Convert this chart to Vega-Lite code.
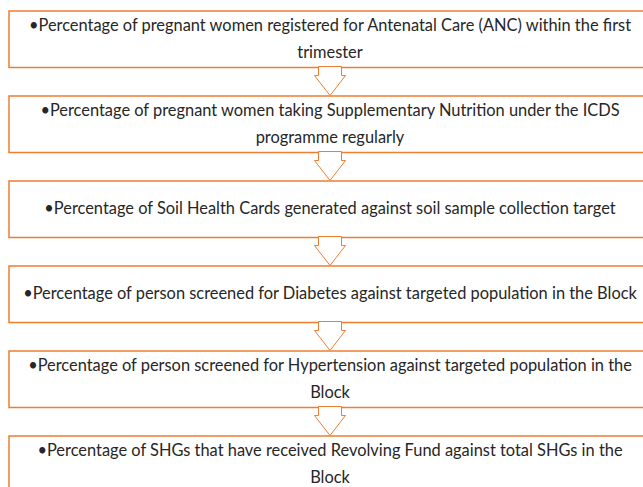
{
  "$schema": "https://vega.github.io/schema/vega-lite/v6.json",
  "width": 642,
  "height": 481.5,
  "padding": {"left": 8, "top": 10, "right": 0, "bottom": 0},
  "background": "white",
  "config": {"view": {"stroke": null}},
  "data": {
    "values": [
      {"step": 1, "label": "•Percentage of pregnant women registered for Antenatal Care (ANC) within the first\ntrimester"},
      {"step": 2, "label": "•Percentage of pregnant women taking Supplementary  Nutrition under the ICDS\nprogramme  regularly"},
      {"step": 3, "label": "•Percentage of Soil Health Cards generated against soil sample collection target"},
      {"step": 4, "label": "•Percentage of person screened for Diabetes against targeted population in the Block"},
      {"step": 5, "label": "•Percentage of person screened for Hypertension  against targeted population  in the\nBlock"},
      {"step": 6, "label": "•Percentage of SHGs that  have received Revolving Fund  against total SHGs in the\nBlock"}
    ]
  },
  "encoding": {
    "y": {"field": "step", "type": "ordinal", "axis": null, "scale": {"paddingInner": 0.335, "paddingOuter": 0}}
  },
  "layer": [
    {
      "mark": {"type": "rect", "fill": "white", "stroke": "#ED7D31", "strokeWidth": 1.5},
      "encoding": {"x": {"value": 0}, "x2": {"value": "width"}}
    },
    {
      "transform": [{"filter": "datum.step < 6"}],
      "mark": {"type": "point", "shape": "M-11.5,-1 L11.5,-1 L11.5,8 L15.5,8 L0,28 L-15.5,8 L-11.5,8 Z", "size": 4, "filled": true, "fill": "white", "stroke": "#ED7D31", "strokeWidth": 1, "opacity": 1},
      "encoding": {"y": {"field": "step", "type": "ordinal", "bandPosition": 1}}
    },
    {
      "transform": [{"filter": "indexof(datum.label, '\\n') < 0"}],
      "mark": {"type": "text", "font": "Lato", "fontSize": 16.4, "lineBreak": "\n", "lineHeight": 27, "color": "#262626", "baseline": "middle", "align": "center"},
      "encoding": {"text": {"field": "label", "type": "nominal"}}
    },
    {
      "transform": [{"filter": "indexof(datum.label, '\\n') >= 0"}],
      "mark": {"type": "text", "font": "Lato", "fontSize": 16.4, "lineBreak": "\n", "lineHeight": 27, "dy": -13.5, "color": "#262626", "baseline": "middle", "align": "center"},
      "encoding": {"text": {"field": "label", "type": "nominal"}}
    }
  ]
}
